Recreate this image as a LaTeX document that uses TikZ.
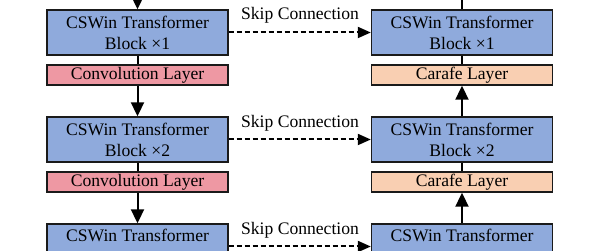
\documentclass[tikz,border=0pt]{standalone}
\usepackage{fontspec}
\setmainfont{Liberation Serif}
\usetikzlibrary{arrows.meta}
\definecolor{blk}{HTML}{8FAADC}
\definecolor{conv}{HTML}{EE98A3}
\definecolor{caf}{HTML}{F9CFB2}
\definecolor{edge}{HTML}{1A1A1A}
\tikzset{
  blockbox/.style={draw=edge, fill=blk, line width=1.4pt, minimum width=181pt, minimum height=45pt, inner sep=0pt, align=center, font=\fontsize{17.6}{21}\selectfont},
  convbox/.style={draw=edge, fill=conv, line width=1.4pt, minimum width=181pt, minimum height=20pt, inner sep=0pt, font=\fontsize{17.6}{21}\selectfont},
  cafbox/.style={draw=edge, fill=caf, line width=1.4pt, minimum width=181pt, minimum height=20pt, inner sep=0pt, font=\fontsize{17.6}{21}\selectfont},
  flow/.style={line width=2pt, draw=black},
  flowarrow/.style={flow, -{Triangle[length=14pt,width=13pt]}},
  skip/.style={line width=2pt, dash pattern=on 5pt off 3pt, -{Triangle[length=13pt,width=11pt]}},
  skiplabel/.style={anchor=base, font=\fontsize{17.6}{21}\selectfont, inner sep=0pt}
}
\begin{document}
\begin{tikzpicture}[x=1pt,y=-1pt]
\useasboundingbox (0,0) rectangle (590,251);
\clip (0,0) rectangle (590,251);
\fill[white] (0,0) rectangle (590,251);
% left column
\node[blockbox] (L1) at (137.5,32.5) {CSWin Transformer\\Block ×1};
\node[convbox] (C1) at (137.5,75) {Convolution Layer};
\node[blockbox] (L2) at (137.5,139.5) {CSWin Transformer\\Block ×2};
\node[convbox] (C2) at (137.5,182) {Convolution Layer};
\node[blockbox] (L3) at (137.5,246.5) {};
\node[skiplabel] (L3t) at (137.5,242) {CSWin Transformer};
% right column
\node[blockbox] (R1) at (462,32.5) {CSWin Transformer\\Block ×1};
\node[cafbox] (F1) at (462,75) {Carafe Layer};
\node[blockbox] (R2) at (462,139.5) {CSWin Transformer\\Block ×2};
\node[cafbox] (F2) at (462,182) {Carafe Layer};
\node[blockbox] (R3) at (462,246.5) {};
\node[skiplabel] (R3t) at (462,242) {CSWin Transformer};
\coordinate (Ltop) at (137.5,-20);
\coordinate (Rtop) at (462,-20);
% flow
\draw[flowarrow] (Ltop) -- (L1.north);
\draw[flow] (L1.south) -- (C1.north);
\draw[flowarrow] (C1.south) -- (L2.north);
\draw[flow] (L2.south) -- (C2.north);
\draw[flowarrow] (C2.south) -- (L3.north);
\draw[flow] (R1.north) -- (Rtop);
\draw[flow] (R1.south) -- (F1.north);
\draw[flowarrow] (R2.north) -- (F1.south);
\draw[flow] (R2.south) -- (F2.north);
\draw[flowarrow] (R3.north) -- (F2.south);
% skips
\draw[skip] (L1.east) -- (R1.west);
\draw[skip] (L2.east) -- (R2.west);
\draw[skip] (L3.east) -- (R3.west);
\node[skiplabel] (S1) at (300,20) {Skip Connection};
\node[skiplabel] (S2) at (300,127.5) {Skip Connection};
\node[skiplabel] (S3) at (300,234.5) {Skip Connection};
\end{tikzpicture}
\end{document}
